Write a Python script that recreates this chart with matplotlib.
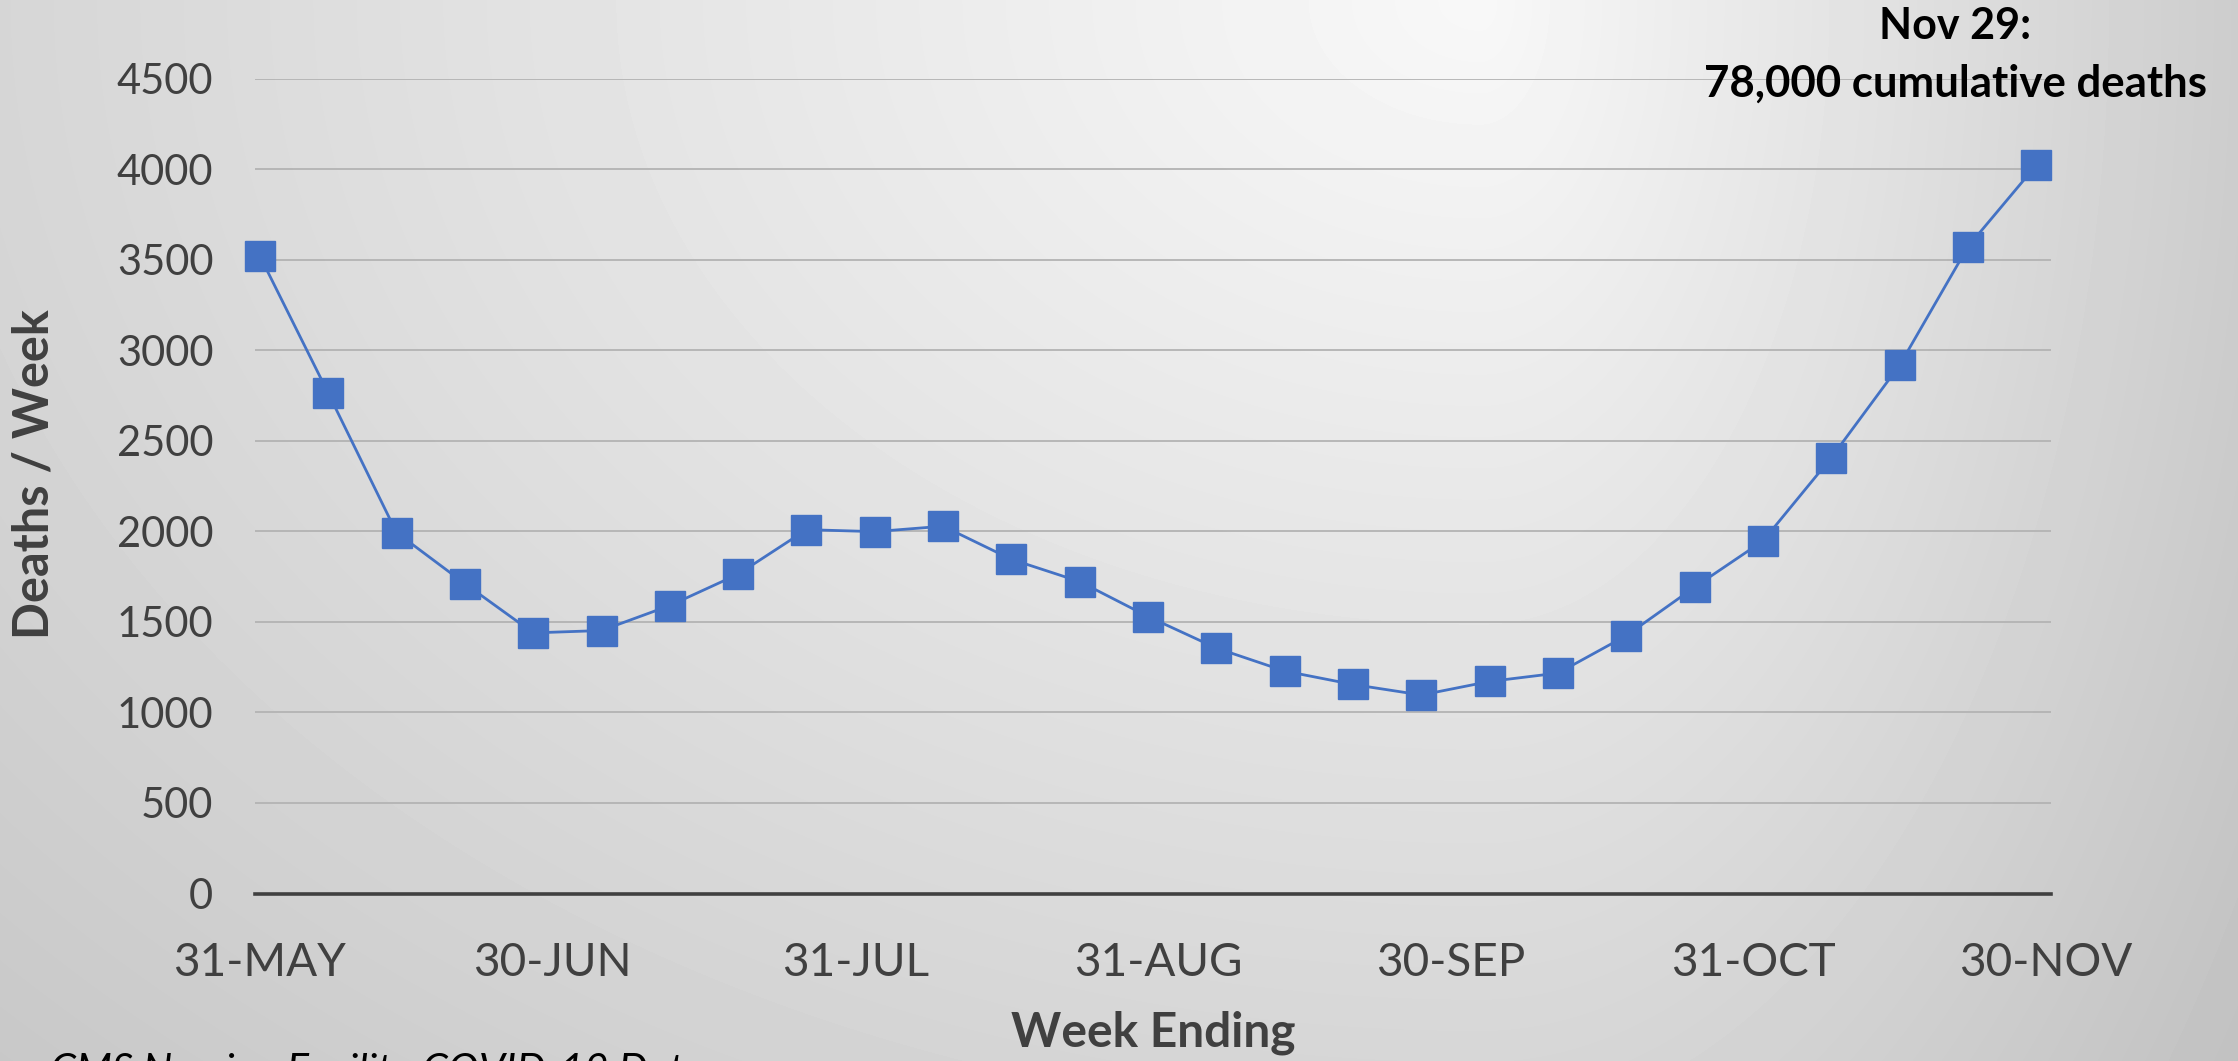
import numpy as np
import pandas as pd
import matplotlib
matplotlib.use("Agg")
import matplotlib.pyplot as plt
import matplotlib.dates as mdates

# Weekly nursing-home COVID-19 deaths, week ending each Sunday
week_ending = pd.date_range("2020-05-31", "2020-11-29", freq="7D")
deaths_per_week = [3520, 2763, 1993, 1711, 1439, 1452, 1590, 1763, 2009,
                   1998, 2028, 1845, 1722, 1529, 1355, 1228, 1154, 1096,
                   1171, 1217, 1424, 1692, 1947, 2407, 2918, 3572, 4022]
tick_dates = pd.to_datetime(["2020-05-31", "2020-06-30", "2020-07-31",
                             "2020-08-31", "2020-09-30", "2020-10-31",
                             "2020-11-30"])
y_ticks = list(range(0, 4501, 500))

W, H, DPI = 2238, 1061, 100
fig = plt.figure(figsize=(W / DPI, H / DPI), dpi=DPI)

# Soft grey backdrop, brightest near the top right of centre
bg = fig.add_axes([0, 0, 1, 1], zorder=-10)
xx, yy = np.meshgrid(np.arange(W), np.arange(H))
dx = xx - 1480.0
rx = np.where(dx < 0, 2085.0, 842.0)
r = np.sqrt((dx / rx) ** 2 + (yy / 1506.0) ** 2)
shade = np.clip(248 - 48 * r, 190, 250) / 255.0
bg.imshow(shade, cmap="gray", vmin=0, vmax=1, aspect="auto",
          extent=[0, W, H, 0], interpolation="bilinear")
bg.axis("off")

ax = fig.add_axes([255 / W, 1 - 893.5 / H, (2051 - 255) / W, (893.5 - 78.5) / H])
ax.patch.set_alpha(0)

blue = "#4472C4"
ax.plot(week_ending, deaths_per_week, color=blue, lw=2.0, marker="s",
        markersize=21, markerfacecolor=blue, markeredgecolor=blue,
        zorder=3, clip_on=False)

ax.set_ylim(0, 4500)
ax.set_xlim(pd.Timestamp("2020-05-31") - pd.Timedelta(hours=12),
            pd.Timestamp("2020-11-30") + pd.Timedelta(hours=12))
ax.set_yticks(y_ticks)
ax.set_xticks(tick_dates)
ax.xaxis.set_major_formatter(mdates.DateFormatter("%d-%b"))
ax.set_xticklabels([d.strftime("%d-%b").upper() for d in tick_dates])

ax.grid(axis="y", color="#b3b3b3", lw=1.3, zorder=0)
for s in ["top", "right", "left"]:
    ax.spines[s].set_visible(False)
ax.spines["bottom"].set_color("#404040")
ax.spines["bottom"].set_linewidth(2.6)
ax.spines["bottom"].set_zorder(2)

txt_col = "#404040"
ax.tick_params(axis="both", length=0, colors=txt_col)
ax.tick_params(axis="y", labelsize=30, pad=30)
ax.tick_params(axis="x", labelsize=33, pad=35)
for lab in ax.get_xticklabels() + ax.get_yticklabels():
    lab.set_fontfamily("Lato")

fig.text(34 / W, 1 - 474 / H, "Deaths / Week", rotation=90, ha="center",
         va="center", fontsize=35, fontweight="bold", color=txt_col,
         family="Lato")
fig.text(1153 / W, 1 - 1033 / H, "Week Ending", ha="center", va="center",
         fontsize=34.5, fontweight="bold", color=txt_col, family="Lato")

fig.text(1955 / W, 1 - 26 / H, "Nov 29:", ha="center", va="center",
         fontsize=31, fontweight="bold", color="black", family="Lato")
fig.text(1955 / W, 1 - 84 / H, "78,000 cumulative deaths", ha="center",
         va="center", fontsize=31.5, fontweight="bold", color="black",
         family="Lato")

fig.text(50 / W, 1 - 1053 / H, "CMS Nursing Facility COVID-19 Data",
         ha="left", va="top", fontsize=30, style="italic", color="black",
         family="Lato")

fig.savefig("out.png", dpi=DPI)
